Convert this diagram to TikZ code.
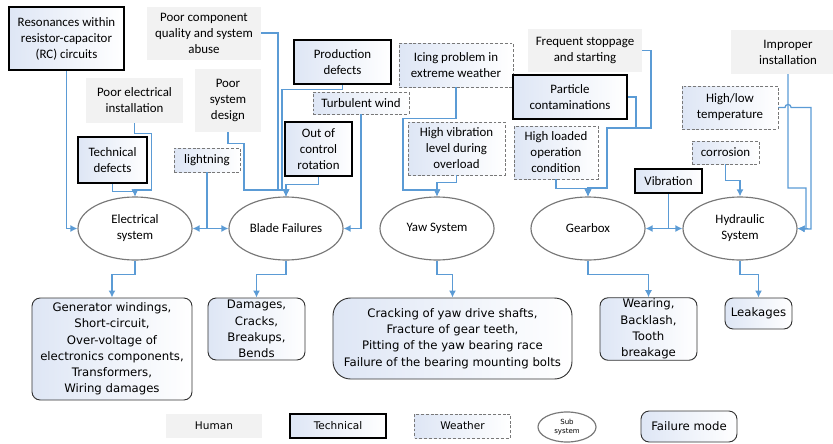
\documentclass[tikz,border=0pt]{standalone}
\usepackage{fontspec}
\setmainfont{Carlito}
\newfontfamily\modefont{DejaVu Sans}
\usetikzlibrary{arrows.meta,shapes.geometric}
\definecolor{lineblue}{RGB}{91,155,213}
\definecolor{humangray}{RGB}{242,242,242}
\definecolor{ellgray}{RGB}{120,120,120}
\definecolor{weathergray}{RGB}{120,120,120}
\definecolor{gradblue}{RGB}{222,230,245}
\tikzset{
    cause/.style = {rectangle, align=center, inner sep=1pt,
        font=\fontsize{11}{13.6}\selectfont},
    human/.style = {cause, fill=humangray},
    technical/.style = {cause, draw=black, line width=2pt,
        left color=gradblue, middle color=white, right color=white},
    weather/.style = {cause, draw=weathergray, line width=.8pt,
        dash pattern=on 2.5pt off 1.6pt,
        left color=gradblue, middle color=white, right color=white},
    subsys/.style = {ellipse, draw=ellgray, line width=1pt, align=center,
        inner sep=0pt, minimum width=3.42cm, minimum height=1.89cm,
        font=\fontsize{11}{13.6}\selectfont},
    failmode/.style = {rectangle, rounded corners=7pt, draw=black!80,
        line width=.8pt, left color=gradblue, middle color=white,
        right color=white, align=center, inner sep=1pt,
        font=\modefont\fontsize{10}{13.9}\selectfont},
    legend/.style = {minimum width=2.88cm, minimum height=.72cm,
        font=\modefont\fontsize{9}{11}\selectfont},
    arrow/.style = {draw=lineblue, line width=1.1pt,
        -{Latex[length=6pt,width=6pt]}},
    twoway/.style = {arrow, {Latex[length=6pt,width=6pt]}-{Latex[length=6pt,width=6pt]}}
}
\begin{document}
\begin{tikzpicture}[x=.03cm, y=-.03cm]
\useasboundingbox (0,0) rectangle (833,443);
% causes
\node[technical, minimum width=3.45cm, minimum height=1.89cm] (res) at (66.5,38.5) {Resonances within\\resistor-capacitor\\(RC) circuits};
\node[human, minimum width=3.42cm, minimum height=1.59cm] (pcq) at (204,33) {Poor component\\quality and system\\abuse};
\node[human, minimum width=2.91cm, minimum height=1.35cm] (pel) at (134.5,100.5) {Poor electrical\\installation};
\node[technical, minimum width=2.07cm, minimum height=1.38cm] (tdef) at (112.5,160) {Technical\\defects};
\node[weather, minimum width=1.98cm, minimum height=.72cm] (light) at (207,160) {lightning};
\node[human, minimum width=1.98cm, minimum height=1.89cm] (psd) at (228,100.5) {Poor\\system\\design};
\node[technical, minimum width=2.91cm, minimum height=1.32cm] (prod) at (342.5,62) {Production\\defects};
\node[weather, minimum width=2.88cm, minimum height=.66cm] (turb) at (361,103) {Turbulent wind};
\node[technical, minimum width=2.01cm, minimum height=1.62cm] (ooc) at (318.5,149) {Out of\\control\\rotation};
\node[weather, minimum width=3.42cm, minimum height=1.32cm] (icing) at (456,65) {Icing problem in\\extreme weather};
\node[weather, minimum width=2.91cm, minimum height=1.59cm] (hvib) at (456.5,148.5) {High vibration\\level during\\overload};
\node[human, minimum width=3.42cm, minimum height=1.29cm] (freq) at (585,50.5) {Frequent stoppage\\and starting};
\node[technical, minimum width=3.42cm, minimum height=1.32cm] (part) at (570,97) {Particle\\contaminations};
\node[weather, minimum width=2.52cm, minimum height=1.59cm] (hload) at (556,152.5) {High loaded\\operation\\condition};
\node[technical, minimum width=2.01cm, minimum height=.72cm] (vib) at (668.5,181) {Vibration};
\node[human, minimum width=3.42cm, minimum height=1.32cm] (impr) at (788,52) {Improper\\installation};
\node[weather, minimum width=2.88cm, minimum height=1.29cm] (temp) at (730,107.5) {High/low\\temperature};
\node[weather, minimum width=2.01cm, minimum height=.69cm] (corr) at (725.5,152.5) {corrosion};
% sub systems
\node[subsys] (elec) at (135,228.5) {Electrical\\system};
\node[subsys] (blade) at (286,228.5) {Blade Failures};
\node[subsys] (yaw) at (437,228.5) {Yaw System};
\node[subsys] (gear) at (588,228.5) {Gearbox};
\node[subsys] (hyd) at (740,228.5) {Hydraulic\\System};
% failure modes
\node[failmode, minimum width=4.8cm, minimum height=3.06cm] (felec) at (112,349) {Generator windings,\\Short-circuit,\\Over-voltage of\\electronics components,\\Transformers,\\Wiring damages};
\node[failmode, minimum width=2.91cm, minimum height=1.86cm] (fblade) at (256.5,329) {Damages,\\Cracks,\\Breakups,\\Bends};
\node[failmode, rounded corners=15pt, minimum width=7.17cm, minimum height=2.43cm] (fyaw) at (452.5,338.5) {Cracking of yaw drive shafts,\\Fracture of gear teeth,\\Pitting of the yaw bearing race\\Failure of the bearing mounting bolts};
\node[failmode, minimum width=2.91cm, minimum height=1.86cm] (fgear) at (648.5,329) {Wearing,\\Backlash,\\Tooth\\breakage};
\node[failmode, minimum width=2.01cm, minimum height=.93cm] (fhyd) at (758.5,313.5) {Leakages};
% legend
\node[human, legend] (lhum) at (214,426) {Human};
\node[technical, legend] (ltech) at (338,426) {Technical};
\node[weather, legend] (lweat) at (462.5,426) {Weather};
\node[subsys, minimum width=1.74cm, minimum height=.9cm, font=\modefont\fontsize{6}{7.5}\selectfont] (lsub) at (567,427) {Sub\\system};
\node[failmode, minimum width=2.88cm, minimum height=.93cm] (lfail) at (689,426.5) {Failure mode};

% electrical system
\draw[arrow] (res.south) |- (elec.west);
\draw[arrow] (pel.south) -- ++(0,10) -- ++(17,0) |- (135,190) -- (elec.north);
\draw[arrow] (tdef.south) -- ++(0,7) -| (elec.north);
\draw[arrow] (light.south) |- (elec.east);
\draw[arrow] (light.south) |- (blade.west);
% blade
\draw[arrow] (pcq.east) -| (278,190) -| (blade.north);
\draw[arrow] (psd.south) -- ++(0,11) -| (244,190) -| (blade.north);
\draw[arrow] (prod.south) -- ++(0,4) -| (282,190) -| (blade.north);
\draw[arrow] (ooc.south) -- ++(0,7) -| (blade.north);
\draw[arrow] (turb.south) |- (blade.east);
% yaw
\draw[arrow] (icing.south) -- ++(0,31) -| (403,190) -| (yaw.north);
\draw[arrow] (hvib.south) -- ++(0,7) -| (yaw.north);
% gearbox
\draw[arrow] (freq.east) -| (651,128) -| (607,188) -| (gear.north);
\draw[arrow] (part.east) -| (636,128) -| (607,188) -| (gear.north);
\draw[arrow] (hload.south) -- ++(0,9) -| (gear.north);
\draw[arrow] (vib.south) |- (gear.east);
\draw[arrow] (vib.south) |- (hyd.west);
% hydraulic
\draw[arrow] (corr.south) -- ++(0,16) -| (hyd.north);
\draw[arrow] (impr.south) -- (788,188) -| (806,229) -- (hyd.east);
\draw[arrow] (temp.east) -- (785,107.5) arc[start angle=180, end angle=0, radius=2.6pt] -| (811,229) -- (hyd.east);
% failure modes
\draw[arrow] (elec.south) -- ++(0,14) -| (felec.north);
\draw[arrow] (blade.south) -- ++(0,14) -| (fblade.north);
\draw[arrow] (yaw.south) -- ++(0,14) -| (fyaw.north);
\draw[arrow] (gear.south) -- ++(0,14) -| (fgear.north);
\draw[arrow] (hyd.south) -- ++(0,14) -| (fhyd.north);
\end{tikzpicture}
\end{document}
